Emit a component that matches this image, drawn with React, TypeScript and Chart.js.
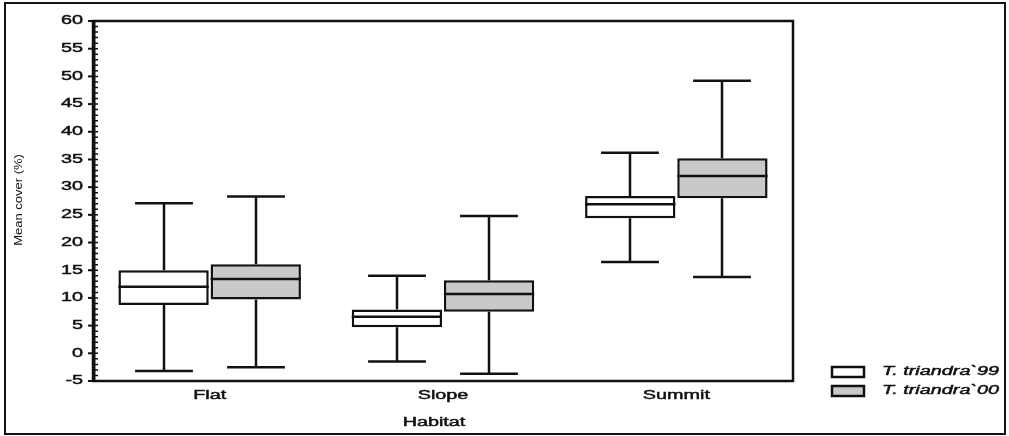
import { useEffect, useRef } from "react";
import { Chart, registerables } from "chart.js";

Chart.register(...registerables);

// Habitat categories along the x axis
const habitats = ["Flat", "Slope", "Summit"];
const seriesNames = ["T. triandra`99", "T. triandra`00"];

// Five-number summaries of mean cover (%) per habitat
const min99 = [-3.2, -1.5, 16.5];
const q1_99 = [8.7, 4.7, 24.4];
const median99 = [12.0, 6.6, 26.9];
const q3_99 = [15.0, 7.9, 28.4];
const max99 = [27.1, 14.0, 36.2];

const min00 = [-2.5, -3.7, 13.8];
const q1_00 = [9.7, 7.5, 28.0];
const median00 = [13.4, 10.7, 32.0];
const q3_00 = [16.1, 13.2, 35.2];
const max00 = [28.3, 24.8, 49.2];

const yMin = -5;
const yMax = 60;
const yStep = 5;

const summaries = [
  { min: min99, median: median99, max: max99 },
  { min: min00, median: median00, max: max00 },
];

const FONT_FAMILY = "'Liberation Sans', Arial, sans-serif";
const STRETCH = 1.65;
const INK = "#111111";
const LINE = 2.5;

function stretchedText(
  ctx: CanvasRenderingContext2D,
  text: string,
  x: number,
  y: number,
  align: CanvasTextAlign,
  font: string,
  sx: number
) {
  ctx.save();
  ctx.translate(x, y);
  ctx.scale(sx, 1);
  ctx.font = font;
  ctx.textAlign = align;
  ctx.textBaseline = "middle";
  ctx.fillStyle = INK;
  ctx.strokeStyle = INK;
  ctx.lineWidth = 0.45;
  ctx.fillText(text, 0, 0);
  ctx.strokeText(text, 0, 0);
  ctx.restore();
}

const boxPlotPlugin = {
  id: "boxPlotDecor",
  beforeDraw(chart: any) {
    const { ctx, width, height } = chart;
    ctx.save();
    ctx.fillStyle = "#ffffff";
    ctx.fillRect(0, 0, width, height);
    ctx.restore();
  },
  beforeDatasetsDraw(chart: any) {
    const ctx: CanvasRenderingContext2D = chart.ctx;
    const y = chart.scales.y;
    ctx.save();
    ctx.strokeStyle = INK;
    ctx.lineWidth = LINE;
    summaries.forEach((s, di) => {
      const meta = chart.getDatasetMeta(di);
      meta.data.forEach((el: any, i: number) => {
        const [q1, q3] = chart.data.datasets[di].data[i];
        const cx = Math.round(el.x);
        const cap = el.width * 0.64;
        const pMax = y.getPixelForValue(s.max[i]);
        const pMin = y.getPixelForValue(s.min[i]);
        ctx.beginPath();
        ctx.moveTo(cx, y.getPixelForValue(q3));
        ctx.lineTo(cx, pMax);
        ctx.moveTo(cx - cap / 2, pMax);
        ctx.lineTo(cx + cap / 2, pMax);
        ctx.moveTo(cx, y.getPixelForValue(q1));
        ctx.lineTo(cx, pMin);
        ctx.moveTo(cx - cap / 2, pMin);
        ctx.lineTo(cx + cap / 2, pMin);
        ctx.stroke();
      });
    });
    ctx.restore();
  },
  afterDatasetsDraw(chart: any) {
    const ctx: CanvasRenderingContext2D = chart.ctx;
    const y = chart.scales.y;
    ctx.save();
    ctx.strokeStyle = INK;
    ctx.lineWidth = LINE;
    summaries.forEach((s, di) => {
      const meta = chart.getDatasetMeta(di);
      meta.data.forEach((el: any, i: number) => {
        const pm = y.getPixelForValue(s.median[i]);
        ctx.beginPath();
        ctx.moveTo(el.x - el.width / 2, pm);
        ctx.lineTo(el.x + el.width / 2, pm);
        ctx.stroke();
      });
    });
    ctx.restore();
  },
  afterDraw(chart: any) {
    const ctx: CanvasRenderingContext2D = chart.ctx;
    const area = chart.chartArea;
    const x = chart.scales.x;
    const y = chart.scales.y;

    ctx.save();
    ctx.strokeStyle = INK;

    // plot frame
    ctx.lineWidth = LINE;
    ctx.strokeRect(area.left, area.top, area.right - area.left, area.bottom - area.top);

    // y axis line
    ctx.lineWidth = 3;
    ctx.beginPath();
    ctx.moveTo(area.left + 1, area.top);
    ctx.lineTo(area.left + 1, area.bottom);
    ctx.stroke();

    // minor ticks every unit
    ctx.lineWidth = 1.5;
    ctx.beginPath();
    for (let v = yMin; v <= yMax; v += 1) {
      const py = y.getPixelForValue(v);
      ctx.moveTo(area.left, py);
      ctx.lineTo(area.left + 5, py);
    }
    ctx.stroke();

    // major ticks and labels
    const tickFont = `12px ${FONT_FAMILY}`;
    ctx.lineWidth = 2;
    y.ticks.forEach((t: any) => {
      const py = y.getPixelForValue(t.value);
      ctx.beginPath();
      ctx.moveTo(area.left - 5, py);
      ctx.lineTo(area.left + 2, py);
      ctx.stroke();
      stretchedText(ctx, String(t.value), area.left - 10, py, "right", tickFont, STRETCH);
    });

    // category labels
    chart.data.labels.forEach((lab: string, i: number) => {
      const px = x.getPixelForValue(i);
      stretchedText(ctx, lab, px, 396, "center", tickFont, STRETCH);
    });

    // axis titles
    stretchedText(ctx, "Habitat", 434, 423, "center", tickFont, STRETCH);
    ctx.save();
    ctx.translate(19, (area.top + area.bottom) / 2 - 1);
    ctx.rotate(-Math.PI / 2);
    ctx.scale(1.3, 1);
    ctx.font = `10px ${FONT_FAMILY}`;
    ctx.textAlign = "center";
    ctx.textBaseline = "middle";
    ctx.fillStyle = INK;
    ctx.fillText("Mean cover (%)", 0, 0);
    ctx.restore();

    // legend
    const legendFont = `italic 12px ${FONT_FAMILY}`;
    chart.data.datasets.forEach((ds: any, i: number) => {
      const top = 367 + i * 19;
      ctx.fillStyle = ds.backgroundColor;
      ctx.fillRect(832, top, 32, 10);
      ctx.lineWidth = LINE;
      ctx.strokeRect(832, top, 32, 10);
      stretchedText(ctx, ds.label, 882, top + 5, "left", legendFont, STRETCH);
    });

    // outer border
    ctx.lineWidth = 2;
    ctx.strokeRect(5, 3, 1000, 431);
    ctx.restore();
  },
};

export default function App() {
  const canvasRef = useRef<HTMLCanvasElement | null>(null);

  useEffect(() => {
    const canvas = canvasRef.current;
    if (!canvas) return;
    const chart = new Chart(canvas, {
      type: "bar",
      data: {
        labels: habitats,
        datasets: [
          {
            label: seriesNames[0],
            data: q1_99.map((q1, i) => [q1, q3_99[i]]),
            backgroundColor: "#ffffff",
            borderColor: INK,
            borderWidth: LINE,
            borderSkipped: false,
          },
          {
            label: seriesNames[1],
            data: q1_00.map((q1, i) => [q1, q3_00[i]]),
            backgroundColor: "#c9c9c9",
            borderColor: INK,
            borderWidth: LINE,
            borderSkipped: false,
          },
        ] as any,
      },
      options: {
        responsive: false,
        animation: false,
        devicePixelRatio: 1,
        categoryPercentage: 0.79,
        barPercentage: 0.98,
        layout: { padding: { left: 93, right: 216, top: 21, bottom: 55 } },
        plugins: {
          legend: { display: false },
          tooltip: { enabled: false },
        },
        scales: {
          x: { type: "category", display: false, offset: true },
          y: {
            display: false,
            min: yMin,
            max: yMax,
            ticks: { stepSize: yStep },
          },
        },
      } as any,
      plugins: [boxPlotPlugin],
    });
    return () => chart.destroy();
  }, []);

  return (
    <div style={{ position: "fixed", left: 0, top: 0, width: 1009, height: 436, background: "#fff" }}>
      <canvas ref={canvasRef} width={1009} height={436} style={{ display: "block" }} />
    </div>
  );
}
